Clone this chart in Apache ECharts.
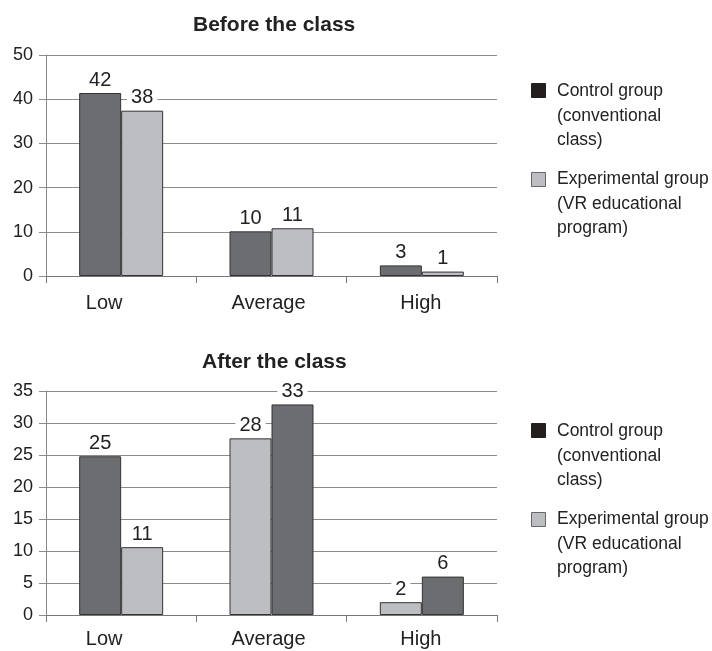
<!DOCTYPE html>
<html>
<head>
<meta charset="utf-8">
<script src="https://cdn.jsdelivr.net/npm/echarts@6/dist/echarts.min.js"></script>
<style>
  html, body { margin: 0; padding: 0; background: #fff; }
  #chart { width: 712px; height: 651px; }
</style>
</head>
<body>
<div id="chart"></div>
<script>
// categories and values
var categories = ['Low', 'Average', 'High'];
var seriesNames = ['Control group (conventional class)', 'Experimental group (VR educational program)'];

// before the class
var beforeTicks = [0, 10, 20, 30, 40, 50];
var beforeControl = [41.4, 10.1, 2.4];
var beforeExperimental = [37.4, 10.8, 1.0];
var beforeControlLabels = ['42', '10', '3'];
var beforeExperimentalLabels = ['38', '11', '1'];

// after the class: bars listed by their position inside each category
var afterTicks = [0, 5, 10, 15, 20, 25, 30, 35];
var afterLeft = [24.8, 27.6, 2.0];
var afterRight = [10.6, 32.9, 6.0];
var afterLeftLabels = ['25', '28', '2'];
var afterRightLabels = ['11', '33', '6'];
var afterLeftGroup = ['control', 'experimental', 'experimental'];
var afterRightGroup = ['experimental', 'control', 'control'];

var FONT = '"Liberation Sans", Arial, sans-serif';
var colors = { control: '#6c6d71', experimental: '#bdbec2' };
var gridColor = '#8c8c8c';
var textColor = '#222';

var myChart = echarts.init(document.getElementById('chart'));

function xAxis(gridIndex, margin) {
  return {
    type: 'category',
    gridIndex: gridIndex,
    data: categories.map(function (c, i) {
      // labels in the source sit a bit left of the category centre
      var pad = [34, 6, 2][i];
      return { value: c, textStyle: { padding: [0, pad, 0, 0] } };
    }),
    axisLine: { show: true, lineStyle: { color: '#777', width: 1 } },
    axisTick: { show: true, length: 7, lineStyle: { color: '#777' } },
    axisLabel: { fontSize: 20, fontFamily: FONT, color: textColor, margin: margin },
    splitLine: { show: false }
  };
}

function yAxis(gridIndex, ticks) {
  return {
    type: 'value',
    gridIndex: gridIndex,
    min: ticks[0],
    max: ticks[ticks.length - 1],
    interval: ticks[1] - ticks[0],
    axisLine: { show: true, lineStyle: { color: '#888', width: 1 } },
    axisTick: { show: true, length: 7, lineStyle: { color: gridColor } },
    axisLabel: { fontSize: 18, fontFamily: FONT, color: textColor, margin: 13 },
    splitLine: { show: true, lineStyle: { color: gridColor, width: 1 } }
  };
}

function barSeries(name, axisIndex, values, labels, groups) {
  return {
    name: name,
    type: 'bar',
    xAxisIndex: axisIndex,
    yAxisIndex: axisIndex,
    barWidth: 42,
    barGap: '0%',
    data: values.map(function (v, i) {
      return { value: v, itemStyle: { color: colors[groups[i]] } };
    }),
    itemStyle: { borderColor: '#333', borderWidth: 1 },
    label: {
      show: true,
      position: 'top',
      distance: 3,
      fontSize: 20,
      fontFamily: FONT,
      color: textColor,
      backgroundColor: '#fff',
      padding: [0, 4, 0, 4],
      formatter: function (p) { return labels[p.dataIndex]; }
    },
    emphasis: { disabled: true }
  };
}

function legendBlock(top) {
  return [
    { type: 'rect', left: 531, top: top, shape: { width: 14, height: 14 },
      style: { fill: '#231f1c', stroke: '#231f1c' } },
    { type: 'text', left: 557, top: top - 4,
      style: { text: 'Control group\n(conventional\nclass)', font: '17.5px ' + FONT,
               fill: textColor, lineHeight: 24.5 } },
    { type: 'rect', left: 531, top: top + 89, shape: { width: 14, height: 14 },
      style: { fill: '#bdbec2', stroke: '#666' } },
    { type: 'text', left: 557, top: top + 84,
      style: { text: 'Experimental group\n(VR educational\nprogram)', font: '17.5px ' + FONT,
               fill: textColor, lineHeight: 24.5 } }
  ];
}

var allControl = ['control', 'control', 'control'];
var allExperimental = ['experimental', 'experimental', 'experimental'];

var option = {
  backgroundColor: '#fff',
  animation: false,
  title: [
    { text: 'Before the class', left: 193, top: 15, padding: 0,
      textStyle: { fontSize: 21, fontWeight: 'bold', fontFamily: FONT, color: textColor } },
    { text: 'After the class', left: 202, top: 352, padding: 0,
      textStyle: { fontSize: 21, fontWeight: 'bold', fontFamily: FONT, color: textColor } }
  ],
  grid: [
    { left: 46, right: 215, top: 55, bottom: 375 },
    { left: 46, right: 215, top: 391, bottom: 36 }
  ],
  xAxis: [xAxis(0, 17), xAxis(1, 14)],
  yAxis: [yAxis(0, beforeTicks), yAxis(1, afterTicks)],
  series: [
    barSeries(seriesNames[0], 0, beforeControl, beforeControlLabels, allControl),
    barSeries(seriesNames[1], 0, beforeExperimental, beforeExperimentalLabels, allExperimental),
    barSeries(seriesNames[0], 1, afterLeft, afterLeftLabels, afterLeftGroup),
    barSeries(seriesNames[1], 1, afterRight, afterRightLabels, afterRightGroup)
  ],
  graphic: legendBlock(83).concat(legendBlock(423))
};

myChart.setOption(option);
</script>
</body>
</html>
